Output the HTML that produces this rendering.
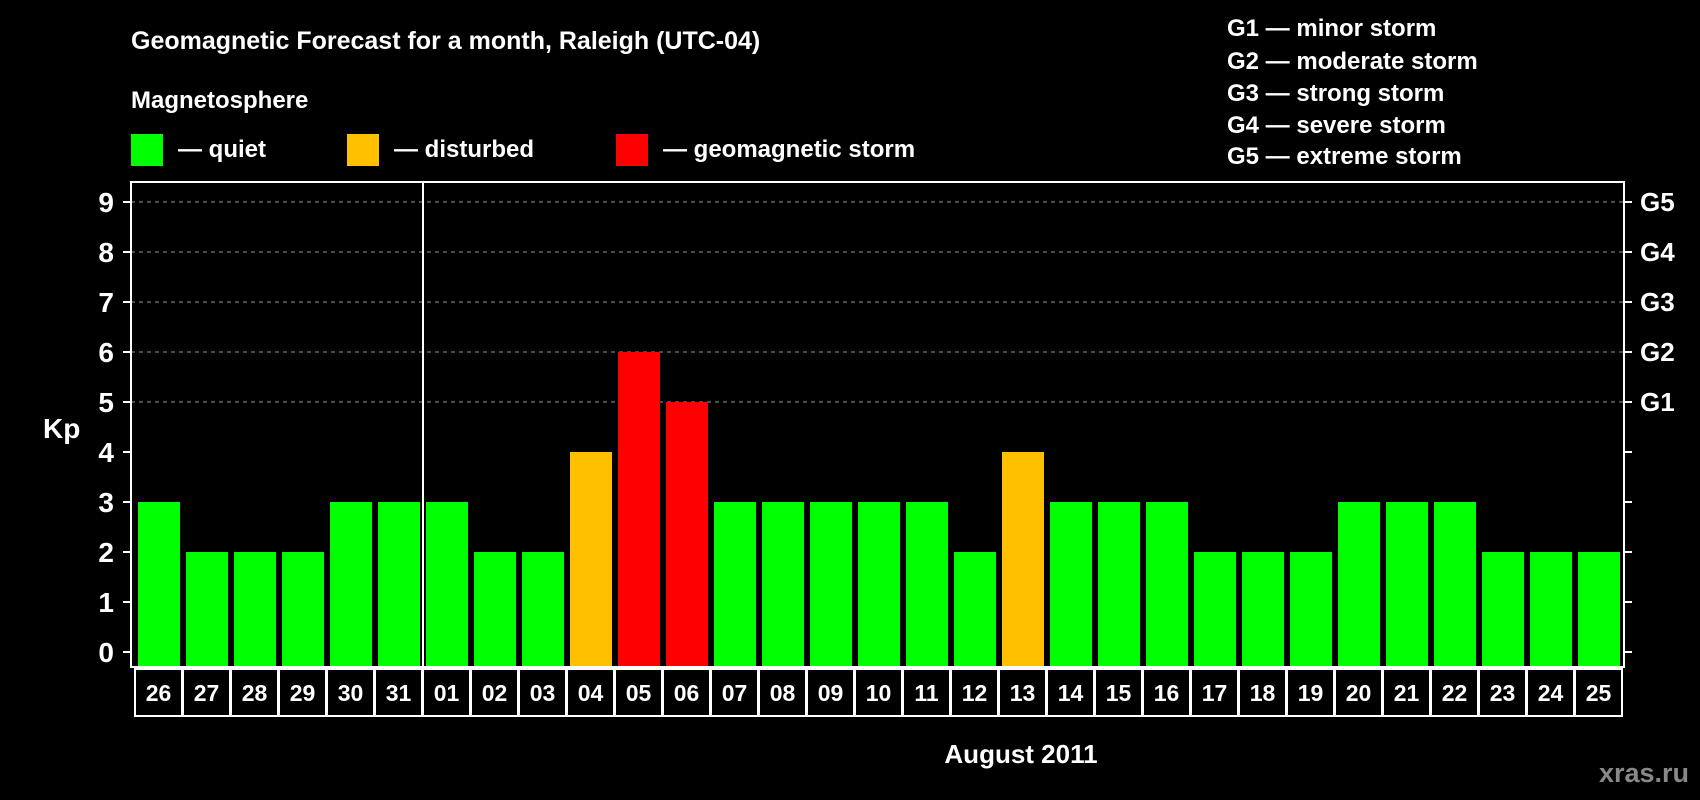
<!DOCTYPE html>
<html><head><meta charset="utf-8"><style>
html,body{margin:0;padding:0;background:#000;}
svg{display:block;font-family:"Liberation Sans",Arial,sans-serif;font-weight:bold;}
</style></head><body>
<svg id="c" width="1700" height="800" viewBox="0 0 1700 800">
<text x="131" y="49" fill="#fff" font-size="25">Geomagnetic Forecast for a month, Raleigh (UTC-04)</text>
<text x="131" y="108" fill="#fff" font-size="24">Magnetosphere</text>
<g><rect x="131" y="134" width="32" height="32" fill="#00ff00"/><text x="178" y="157" fill="#fff" font-size="24">— quiet</text></g>
<g><rect x="347" y="134" width="32" height="32" fill="#ffc000"/><text x="394" y="157" fill="#fff" font-size="24">— disturbed</text></g>
<g><rect x="616" y="134" width="32" height="32" fill="#ff0000"/><text x="663" y="157" fill="#fff" font-size="24">— geomagnetic storm</text></g>
<g fill="#fff" font-size="24">
<text x="1227" y="36">G1 — minor storm</text>
<text x="1227" y="69">G2 — moderate storm</text>
<text x="1227" y="101">G3 — strong storm</text>
<text x="1227" y="133">G4 — severe storm</text>
<text x="1227" y="164">G5 — extreme storm</text>
</g>
<text x="43" y="438" fill="#fff" font-size="28">Kp</text>
<text x="1021" y="763" fill="#fff" font-size="26" text-anchor="middle">August 2011</text>
<text x="1689" y="782" fill="#888" font-size="27" text-anchor="end">xras.ru</text>
<g id="grid"></g><g id="bars"></g><g id="axes"></g><g id="labels"></g>
</svg>
<script>
const days=["26","27","28","29","30","31","01","02","03","04","05","06","07","08","09","10","11","12","13","14","15","16","17","18","19","20","21","22","23","24","25"];
const kp=[3,2,2,2,3,3,3,2,2,4,6,5,3,3,3,3,3,2,4,3,3,3,2,2,2,3,3,3,2,2,2];
const yTicks=[0,1,2,3,4,5,6,7,8,9];
const gLevels=[5,6,7,8,9];
const gLabels=["G1","G2","G3","G4","G5"];
const NS="http://www.w3.org/2000/svg";
const L=131,R=1624,T=182,B=667;
function y(v){return 652-50*v;}
function x(i){return 138+48*i;}
function mk(tag,attrs,parent,txt){const e=document.createElementNS(NS,tag);for(const k in attrs)e.setAttribute(k,attrs[k]);if(txt!==undefined)e.textContent=txt;document.getElementById(parent).appendChild(e);return e;}
gLevels.forEach((v,i)=>{
 const g=mk('line',{x1:L,x2:R,y1:y(v),y2:y(v),stroke:'#999','stroke-dasharray':'4,4','stroke-width':1},'grid');
 
 
 const t=mk('text',{x:1640,y:y(v)+9,fill:'#fff','font-size':26},'labels',gLabels[i]);
 
 
});
kp.forEach((v,i)=>{
 const c=v>=5?'#ff0000':(v>=4?'#ffc000':'#00ff00');
 const b=mk('rect',{x:x(i),y:y(v),width:42,height:B-y(v),fill:c},'bars');
 
 
});
const box=mk('rect',{x:L,y:T,width:R-L,height:B-T,fill:'none',stroke:'#fff','stroke-width':2},'axes');


const dv=mk('line',{x1:423,x2:423,y1:T,y2:B,stroke:'#fff','stroke-width':2},'axes');


yTicks.forEach(v=>{
 mk('line',{x1:L-8,x2:L,y1:y(v),y2:y(v),stroke:'#fff','stroke-width':2},'axes');
 mk('line',{x1:R,x2:R+8,y1:y(v),y2:y(v),stroke:'#fff','stroke-width':2},'axes');
 const t=mk('text',{x:114,y:y(v)+10,fill:'#fff','font-size':28,'text-anchor':'end'},'labels',String(v));
 
 
});
days.forEach((d,i)=>{
 const cx=134+48*i;
 const r=mk('rect',{x:cx+1,y:669,width:47,height:47,fill:'none',stroke:'#fff','stroke-width':2},'axes');
 
 
 const t=mk('text',{x:cx+24.5,y:701,fill:'#fff','font-size':23,'text-anchor':'middle'},'labels',d);
 
 
});
</script>
</body></html>
